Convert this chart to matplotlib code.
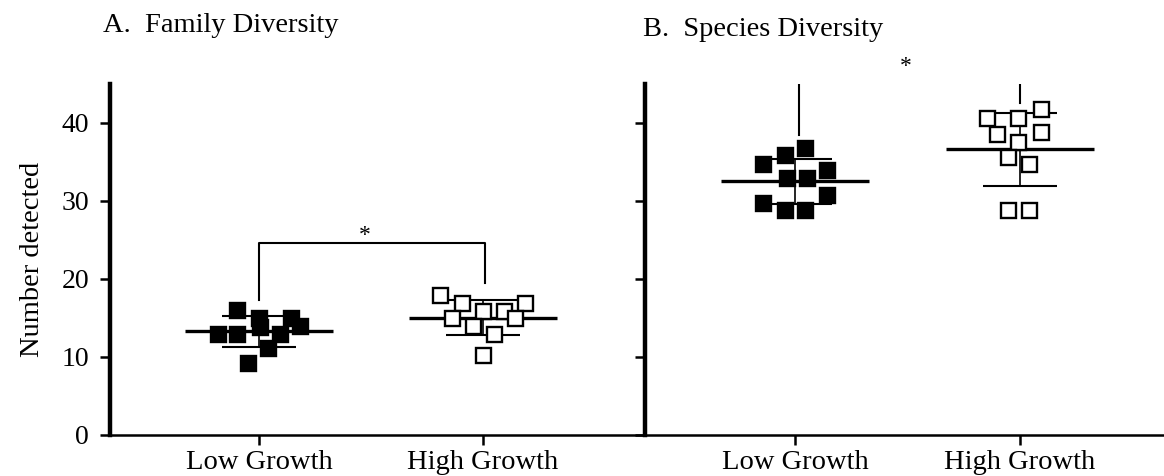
import numpy as np
import matplotlib
matplotlib.use("Agg")
import matplotlib.pyplot as plt

plt.rcParams['font.family'] = ['Liberation Serif', 'DejaVu Serif']

# ---------------- data ----------------
groups = ["Low Growth", "High Growth"]
yticks = [0, 10, 20, 30, 40]

family_low = [16.0, 15.0, 15.0, 14.0, 12.9, 12.9, 13.9, 13.0, 11.1, 9.2]
family_low_jitter = [-0.097, 0.001, 0.141, 0.183, -0.182, -0.097, 0.004, 0.094, 0.042, -0.048]
family_high = [17.9, 16.9, 15.9, 15.9, 16.9, 15.0, 15.0, 14.0, 12.9, 10.2]
family_high_jitter = [-0.192, -0.095, 0.001, 0.095, 0.188, -0.140, 0.143, -0.043, 0.050, 0.001]

species_low = [36.8, 35.9, 34.8, 34.0, 32.9, 32.9, 30.8, 29.7, 28.8, 28.8]
species_low_jitter = [0.044, -0.044, -0.142, 0.142, -0.036, 0.053, 0.142, -0.142, -0.044, 0.044]
species_high = [40.7, 40.7, 41.8, 38.6, 38.8, 37.6, 35.7, 34.7, 28.8, 28.8]
species_high_jitter = [-0.148, -0.008, 0.092, -0.104, 0.092, -0.008, -0.052, 0.041, -0.052, 0.041]

# significance brackets: (left leg bottom, top, right leg bottom), star height
family_bracket = [17.3, 24.6, 19.5]
family_star = 25.6
species_bracket = [38.5, 48.0, 42.6]
species_star = 47.2

titles = ["A.  Family Diversity", "B.  Species Diversity"]

# ---------------- figure ----------------
W, H = 1164, 476
fig = plt.figure(figsize=(W / 100, H / 100), dpi=100)

axL = fig.add_axes([110 / W, (H - 435) / H, 535 / W, 351 / H])
axR = fig.add_axes([645 / W, (H - 435) / H, 519 / W, 351 / H])

FS = 20.5
FS_Y = 20


def style_axis(ax, xlim, show_labels):
    ax.set_ylim(0, 45)
    ax.set_xlim(*xlim)
    for s in ["top", "right"]:
        ax.spines[s].set_visible(False)
    ax.spines["left"].set_linewidth(3.2)
    ax.spines["bottom"].set_linewidth(1.8)
    ax.set_yticks(yticks)
    ax.set_xticks(range(len(groups)))
    ax.set_xticklabels(groups, fontsize=FS)
    ax.tick_params(axis="y", length=7, width=1.8, pad=8, labelsize=FS_Y)
    ax.tick_params(axis="x", length=7, width=1.8, pad=3.5, labelsize=FS)
    if not show_labels:
        ax.set_yticklabels([])
    ax.patch.set_alpha(0)


def draw_group(ax, xc, vals, jit, filled):
    vals = np.asarray(vals)
    m = vals.mean()
    sd = vals.std(ddof=1)
    ax.vlines(xc, m - sd, m + sd, color="black", lw=1.2, zorder=2)
    ax.hlines([m - sd, m + sd], xc - 0.165, xc + 0.165, color="black", lw=1.5, zorder=2)
    ax.hlines(m, xc - 0.33, xc + 0.33, color="black", lw=2.4, zorder=2)
    xs = xc + np.asarray(jit)
    ax.plot(xs, vals, linestyle="none", marker="s", markersize=10.8,
            markerfacecolor="black" if filled else "white",
            markeredgecolor="black", markeredgewidth=1.7, zorder=3)


style_axis(axL, (-0.665, 1.723), True)
style_axis(axR, (-0.667, 1.64), False)

draw_group(axL, 0, family_low, family_low_jitter, True)
draw_group(axL, 1, family_high, family_high_jitter, False)
draw_group(axR, 0, species_low, species_low_jitter, True)
draw_group(axR, 1, species_high, species_high_jitter, False)

# brackets
b = family_bracket
axL.plot([0, 0, 1.01, 1.01], [b[0], b[1], b[1], b[2]], color="black", lw=1.5)
axL.text(0.47, family_star, "*", ha="center", va="center", fontsize=17)

b = species_bracket
axR.plot([0.018, 0.018, 1.0, 1.0], [b[0], b[1], b[1], b[2]], color="black", lw=1.5)
axR.text(0.49, species_star, "*", ha="center", va="center", fontsize=17, clip_on=False)

axL.set_ylabel("Number detected", fontsize=FS, labelpad=12)

fig.text(103 / W, 1 - 25 / H, titles[0], ha="left", va="center", fontsize=FS)
fig.text(643 / W, 1 - 30 / H, titles[1], ha="left", va="center", fontsize=FS)

fig.savefig("out.png", dpi=100)
